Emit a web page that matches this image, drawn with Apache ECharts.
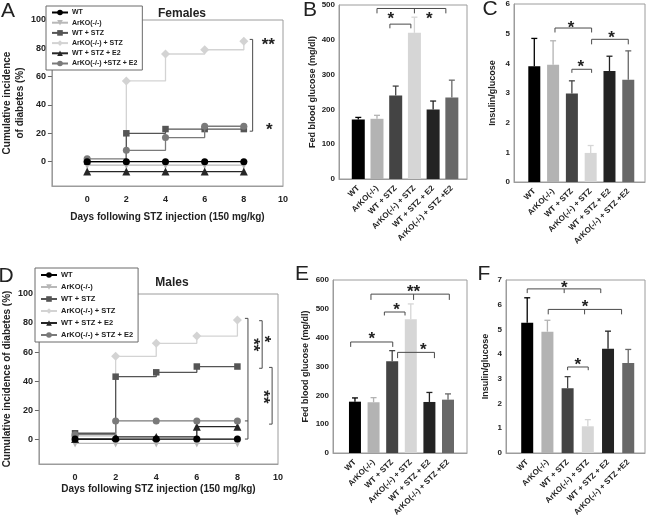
<!DOCTYPE html>
<html>
<head>
<meta charset="utf-8">
<script src="https://cdn.jsdelivr.net/npm/echarts@6/dist/echarts.min.js"></script>
<style>
html, body { margin: 0; padding: 0; background: #fff; }
#chart { width: 649px; height: 526px; }
</style>
</head>
<body>
<div id="chart"></div>
<script>
// ---- data ----
const days = [0, 2, 4, 6, 8];
const dayTicks = [0, 2, 4, 6, 8, 10];
const incidenceTicks = [0, 20, 40, 60, 80, 100];

const namesFemale = ['WT', 'ArKO(-/-)', 'WT + STZ', 'ArKO(-/-) + STZ', 'WT + STZ + E2', 'ArKO(-/-) +STZ + E2'];
const namesMale = ['WT', 'ArKO(-/-)', 'WT + STZ', 'ArKO(-/-) + STZ', 'WT + STZ + E2', 'ArKO(-/-) + STZ + E2'];

// cumulative incidence (%), one row per group, one value per day
const incidenceFemale = [
  [0, 0, 0, 0, 0],
  [-2.5, -2.5, -2.5, -2.5, -2.5],
  [0, 20, 23, 23, 23],
  [0, 57, 76, 79, 85],
  [-7, -7, -7, -7, -7],
  [2, 8, 17, 25, 25]
];
const incidenceMale = [
  [0, 0, 0, 0, 0],
  [-3, -3, -3, -3, -3],
  [4, 43, 46, 50, 50],
  [2, 57, 66, 71, 82],
  [0, 1.5, 1.5, 8.5, 8.5],
  [3, 12.5, 12.5, 12.5, 12.5]
];

const barGroups = ['WT', 'ArKO(-/-)', 'WT + STZ', 'ArKO(-/-) + STZ', 'WT + STZ + E2', 'ArKO(-/-) + STZ +E2'];
const glucoseFemale = [171, 173, 240, 420, 200, 234];
const glucoseFemaleSem = [6, 10, 27, 45, 24, 50];
const ratioFemale = [3.90, 3.95, 2.98, 0.98, 3.74, 3.45];
const ratioFemaleSem = [0.94, 0.81, 0.43, 0.25, 0.50, 0.97];
const glucoseMale = [178, 176, 318, 464, 177, 185];
const glucoseMaleSem = [13, 16, 37, 53, 33, 20];
const ratioMale = [5.27, 4.91, 2.62, 1.08, 4.22, 3.64];
const ratioMaleSem = [1.01, 0.46, 0.47, 0.27, 0.71, 0.55];

// significance brackets: [x1, x2, y, yEnd, xMid]
const bracketsB = [[1, 4.68, 490, 476, 3], [1.69, 2.81, 445, 433, null]];
const bracketsC = [[1.1, 3.05, 5.19, 5.04, null], [3.05, 5.0, 4.81, 4.64, null], [2.0, 3.05, 3.80, 3.68, null]];
const bracketsE = [[0.86, 5.07, 551, 531, 3.15], [1.58, 2.69, 489, 477, null], [-0.23, 2.03, 385, 368, null], [2.29, 4.27, 349, 329, null]];
const bracketsF = [[0, 3.64, 6.64, 6.47, 1.83], [1.04, 4.67, 5.81, 5.61, 2.84], [2.0, 3.02, 3.48, 3.35, null]];
// vertical brackets: [x, yTop, yBottom, xTickEnd, yExtraTick]
const bracketsA = [[8.45, 86.3, 21.5, 8.3, null]];
const bracketsD = [[8.52, 83.2, 0, 8.37, 12.5], [9.22, 81.6, 48.8, 9.07, null], [9.71, 49.4, 10.3, 9.56, null]];
// stars: [x, y, count, rotated]
const starsA = [[9.25, 85, 2, 0], [9.3, 25, 1, 0]];
const starsB = [[1.74, 471, 1, 0], [3.79, 471, 1, 0]];
const starsC = [[1.96, 5.32, 1, 0], [4.11, 4.98, 1, 0], [2.48, 3.99, 1, 0]];
const starsD = [[8.95, 65, 2, 1], [9.47, 69, 1, 1], [9.42, 29, 2, 1]];
const starsE = [[3.15, 571, 2, 0], [2.24, 510, 1, 0], [0.9, 409, 1, 0], [3.67, 371, 1, 0]];
const starsF = [[1.83, 6.84, 1, 0], [2.86, 6.04, 1, 0], [2.5, 3.69, 1, 0]];

// ---- styles ----
const FONT = '"Liberation Sans", Arial, sans-serif';
const axisGray = '#9c9c9c';
const lineColors = ['#000000', '#b8b8b8', '#555555', '#d3d3d3', '#262626', '#7a7a7a'];
const symbols = ['circle', 'triangle', 'rect', 'diamond', 'triangle', 'circle'];
const symbolSizes = [7, 8, 6.5, 9, 8, 7];
const lineZ = [8, 3, 5, 4, 6, 7];
const barColors = ['#000000', '#b3b3b3', '#444444', '#d6d6d6', '#232323', '#686868'];

let myChart = echarts.init(document.getElementById('chart'), null, { renderer: 'canvas' });

const lineSeries = (names, rows, grid) => names.map((name, i) => ({
  name: name,
  type: 'line',
  xAxisIndex: grid,
  yAxisIndex: grid,
  step: 'end',
  data: days.map((d, j) => [d, rows[i][j]]),
  symbol: symbols[i],
  symbolSize: symbolSizes[i],
  symbolRotate: i === 1 ? 180 : 0,
  lineStyle: { color: lineColors[i], width: 1.3 },
  itemStyle: { color: lineColors[i] },
  z: lineZ[i]
}));

const errorBar = (params, api) => {
  const x = api.value(0);
  const p0 = api.coord([x, api.value(1)]);
  const p1 = api.coord([x, api.value(2)]);
  const color = barColors[params.dataIndex];
  return {
    type: 'group',
    children: [
      { type: 'line', shape: { x1: p0[0], y1: p0[1], x2: p1[0], y2: p1[1] }, style: { stroke: color, lineWidth: 1.3 } },
      { type: 'line', shape: { x1: p1[0] - 3, y1: p1[1], x2: p1[0] + 3, y2: p1[1] }, style: { stroke: color, lineWidth: 1.3 } }
    ]
  };
};

const barSeries = (values, sem, grid, width) => [
  {
    type: 'bar',
    xAxisIndex: grid,
    yAxisIndex: grid,
    barWidth: width,
    data: values.map((v, i) => [i, v]),
    itemStyle: { color: (p) => barColors[p.dataIndex] }
  },
  {
    type: 'custom',
    xAxisIndex: grid,
    yAxisIndex: grid,
    z: 3,
    data: values.map((v, i) => [i, v, v + sem[i]]),
    renderItem: errorBar
  }
];

const hBrackets = (list, grid) => ({
  type: 'custom',
  xAxisIndex: grid,
  yAxisIndex: grid,
  z: 4,
  data: list.map(b => [b[0], b[2], b[1], b[3], b[4] === null ? NaN : b[4]]),
  renderItem: (params, api) => {
    const y = api.value(1);
    const a = api.coord([api.value(0), y]);
    const b = api.coord([api.value(2), y]);
    const ye = api.coord([api.value(0), api.value(3)])[1];
    const children = [{
      type: 'polyline',
      shape: { points: [[a[0], ye], a, b, [b[0], ye]] },
      style: { stroke: '#4a4a4a', fill: null, lineWidth: 1 }
    }];
    const xm = api.value(4);
    if (isFinite(xm)) {
      const m = api.coord([xm, y]);
      children.push({ type: 'line', shape: { x1: m[0], y1: m[1], x2: m[0], y2: ye }, style: { stroke: '#4a4a4a', lineWidth: 1 } });
    }
    return { type: 'group', children: children };
  }
});

const vBrackets = (list, grid) => ({
  type: 'custom',
  xAxisIndex: grid,
  yAxisIndex: grid,
  z: 4,
  data: list.map(b => [b[0], b[1], b[2], b[3], b[4] === null ? NaN : b[4]]),
  renderItem: (params, api) => {
    const x = api.value(0);
    const top = api.coord([x, api.value(1)]);
    const bot = api.coord([x, api.value(2)]);
    const tx = api.coord([api.value(3), 0])[0];
    const children = [{
      type: 'polyline',
      shape: { points: [[tx, top[1]], top, bot, [tx, bot[1]]] },
      style: { stroke: '#4a4a4a', fill: null, lineWidth: 1 }
    }];
    const ye = api.value(4);
    if (isFinite(ye)) {
      const e = api.coord([x, ye]);
      children.push({ type: 'line', shape: { x1: tx, y1: e[1], x2: e[0], y2: e[1] }, style: { stroke: '#4a4a4a', lineWidth: 1 } });
    }
    return { type: 'group', children: children };
  }
});

const starMarks = (list, grid) => ({
  type: 'custom',
  xAxisIndex: grid,
  yAxisIndex: grid,
  z: 5,
  data: list,
  renderItem: (params, api) => {
    const p = api.coord([api.value(0), api.value(1)]);
    const rotated = api.value(3) === 1;
    return {
      type: 'text',
      x: p[0] + (rotated ? -4 : 0),
      y: p[1] + (rotated ? 0 : 4),
      rotation: rotated ? -Math.PI / 2 : 0,
      style: {
        text: '*'.repeat(api.value(2)),
        font: 'bold 17px ' + FONT,
        fill: '#222',
        align: 'center',
        verticalAlign: 'middle'
      }
    };
  }
});

const labelStyle = { color: '#222', fontWeight: 'bold', fontFamily: FONT };

const lineXAxis = (grid, min) => ({
  gridIndex: grid, type: 'value', min: min, max: 10,
  axisLine: { onZero: false, lineStyle: { color: axisGray } },
  axisTick: { show: false },
  splitLine: { show: false },
  axisLabel: Object.assign({ customValues: dayTicks, fontSize: 9, margin: 9 }, labelStyle),
  name: 'Days following STZ injection (150 mg/kg)',
  nameLocation: 'middle',
  nameGap: grid === 0 ? 26 : 20,
  nameTextStyle: Object.assign({ fontSize: 10 }, labelStyle)
});

const lineYAxis = (grid, name, gap) => ({
  gridIndex: grid, type: 'value', min: -17.2, max: 100,
  axisLine: { onZero: false, lineStyle: { color: axisGray } },
  axisTick: { customValues: incidenceTicks, length: 4, lineStyle: { color: '#666' } },
  splitLine: { show: false },
  axisLabel: Object.assign({ customValues: incidenceTicks, fontSize: 9, margin: 6 }, labelStyle),
  name: name,
  nameLocation: 'middle',
  nameGap: gap,
  nameTextStyle: Object.assign({ fontSize: 10, lineHeight: 13 }, labelStyle)
});

const barXAxis = (grid, min, max) => ({
  gridIndex: grid, type: 'value', min: min, max: max,
  axisLine: { onZero: false, lineStyle: { color: axisGray } },
  axisTick: { show: false },
  splitLine: { show: false },
  axisLabel: Object.assign({
    customValues: [0, 1, 2, 3, 4, 5],
    formatter: (v) => barGroups[Math.round(v)],
    rotate: 45, fontSize: 8, margin: 8
  }, labelStyle)
});

const barYAxis = (grid, max, interval, name, gap) => ({
  gridIndex: grid, type: 'value', min: 0, max: max, interval: interval,
  axisLine: { onZero: false, lineStyle: { color: axisGray } },
  axisTick: { show: false },
  splitLine: { show: false },
  axisLabel: Object.assign({ fontSize: 8, margin: 4 }, labelStyle),
  name: name,
  nameLocation: 'middle',
  nameGap: gap,
  nameTextStyle: Object.assign({ fontSize: 9 }, labelStyle)
});

const gridBox = (left, top, width, height) => ({
  left: left, top: top, width: width, height: height,
  show: true, borderColor: axisGray, borderWidth: 1, backgroundColor: 'transparent'
});

const legendBox = (names, left, top, gap, size) => ({
  data: names, left: left, top: top, orient: 'vertical',
  itemWidth: 16, itemHeight: 7, itemGap: gap,
  padding: [3, 5, 3, 5],
  borderColor: '#6a6a6a', borderWidth: 1, backgroundColor: '#fff',
  selectedMode: false,
  textStyle: { fontSize: size, fontWeight: 'bold', fontFamily: FONT, color: '#222', padding: [0, 0, 0, -1] },
  z: 10
});

const panelText = (text, x, y, size, bold) => ({
  type: 'text', x: x, y: y, z: 20,
  style: { text: text, font: (bold ? 'bold ' : '') + size + 'px ' + FONT, fill: '#222', align: 'center', verticalAlign: 'middle' }
});

const option = {
  animation: false,
  backgroundColor: '#fff',
  textStyle: { fontFamily: FONT },
  grid: [
    gridBox(46, 20, 237, 166),
    gridBox(339, 5, 128, 174),
    gridBox(514, 4, 131, 178),
    gridBox(35, 294, 243, 170),
    gridBox(333, 280, 134, 173),
    gridBox(506, 280, 139, 173)
  ],
  xAxis: [
    lineXAxis(0, -1.8),
    barXAxis(1, -1.03, 5.81),
    barXAxis(2, -1.08, 5.89),
    lineXAxis(3, -1.78),
    barXAxis(4, -1.18, 6.02),
    barXAxis(5, -1.05, 5.83)
  ],
  yAxis: [
    lineYAxis(0, 'Cumulative incidence\nof diabetes (%)', 17),
    barYAxis(1, 500, 100, 'Fed blood glucose (mg/dl)', 22),
    barYAxis(2, 6, 1, 'Insulin/glucose', 17),
    lineYAxis(3, 'Cumulative incidence of diabetes (%)', 22),
    barYAxis(4, 600, 100, 'Fed blood glucose (mg/dl)', 23),
    barYAxis(5, 7, 1, 'Insulin/glucose', 16)
  ],
  legend: [
    legendBox(namesFemale, 46, 6, 3.2, 7),
    legendBox(namesMale, 35, 268, 4, 7.5)
  ],
  graphic: [
    panelText('A', 8, 11, 21, false),
    panelText('B', 310, 10, 21, false),
    panelText('C', 490, 9, 21, false),
    panelText('D', 6, 276, 21, false),
    panelText('E', 302, 274, 21, false),
    panelText('F', 484, 274, 21, false),
    panelText('Females', 182, 14, 12, true),
    panelText('Males', 172, 283, 12, true)
  ],
  series: [].concat(
    lineSeries(namesFemale, incidenceFemale, 0),
    vBrackets(bracketsA, 0),
    starMarks(starsA, 0),
    barSeries(glucoseFemale, glucoseFemaleSem, 1, 13),
    hBrackets(bracketsB, 1),
    starMarks(starsB, 1),
    barSeries(ratioFemale, ratioFemaleSem, 2, 12),
    hBrackets(bracketsC, 2),
    starMarks(starsC, 2),
    lineSeries(namesMale, incidenceMale, 3),
    vBrackets(bracketsD, 3),
    starMarks(starsD, 3),
    barSeries(glucoseMale, glucoseMaleSem, 4, 12),
    hBrackets(bracketsE, 4),
    starMarks(starsE, 4),
    barSeries(ratioMale, ratioMaleSem, 5, 12),
    hBrackets(bracketsF, 5),
    starMarks(starsF, 5)
  )
};

option && myChart.setOption(option);
</script>
</body>
</html>
